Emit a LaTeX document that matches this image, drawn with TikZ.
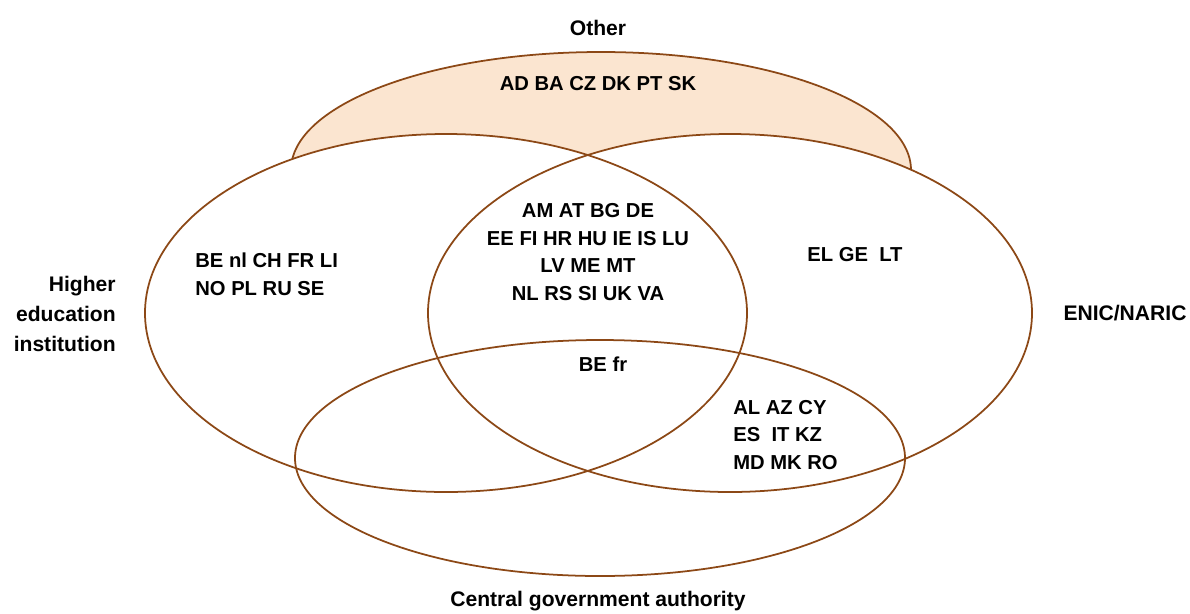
\documentclass[tikz,border=0pt]{standalone}
\usepackage{fontspec}
\setmainfont{Liberation Sans}
\usepackage{tikz}
\usetikzlibrary{positioning}
\definecolor{VennEdge}{RGB}{140,72,22}
\definecolor{VennFill}{RGB}{251,229,208}

\begin{document}
\begin{tikzpicture}[x=0.02cm,y=-0.02cm,
  ring/.style={draw=VennEdge,line width=1pt},
  members/.style={font=\bfseries\fontsize{11.5}{15.7}\selectfont,
    inner sep=0pt},
  setname/.style={font=\bfseries\fontsize{12}{17}\selectfont,
    inner sep=0pt},
]
\useasboundingbox (0,0) rectangle (1190,613);
% —— ellipses ——
\draw[ring,fill=VennFill] (601,170) ellipse [x radius=310,y radius=118];
\fill[white] (446,313) ellipse [x radius=301,y radius=179];
\fill[white] (730,313) ellipse [x radius=302,y radius=179];
\draw[ring] (446,313) ellipse [x radius=301,y radius=179];
\draw[ring] (730,313) ellipse [x radius=302,y radius=179];
\draw[ring] (600,458) ellipse [x radius=305,y radius=118];

% —— set names ——
\node[setname] (other) at (598,28) {Other};
\node[setname,align=right,anchor=east] (hei) at (116,314)
  {Higher\\education\\institution};
\node[setname] (enic) at (1125,313) {ENIC/NARIC};
\node[setname] (cga) at (598,601) {Central government authority};

% —— countries ——
\node[members] (onlyother) at (598,84) {AD BA CZ DK PT SK};
\node[members,align=left,anchor=west] (onlyhei) at (195,274)
  {BE nl CH FR LI\\NO PL RU SE};
\node[members,align=center] (heienic) at (588,252)
  {AM AT BG DE\\EE FI HR HU IE IS LU\\LV ME MT\\NL RS SI UK VA};
\node[members] (onlyenic) at (855,255) {EL GE~ LT};
\node[members] (allthree) at (603,364) {BE fr};
\node[members,align=left,anchor=west] (enicgov) at (733,435)
  {AL AZ CY\\ES~ IT KZ\\MD MK RO};
\end{tikzpicture}
\end{document}
